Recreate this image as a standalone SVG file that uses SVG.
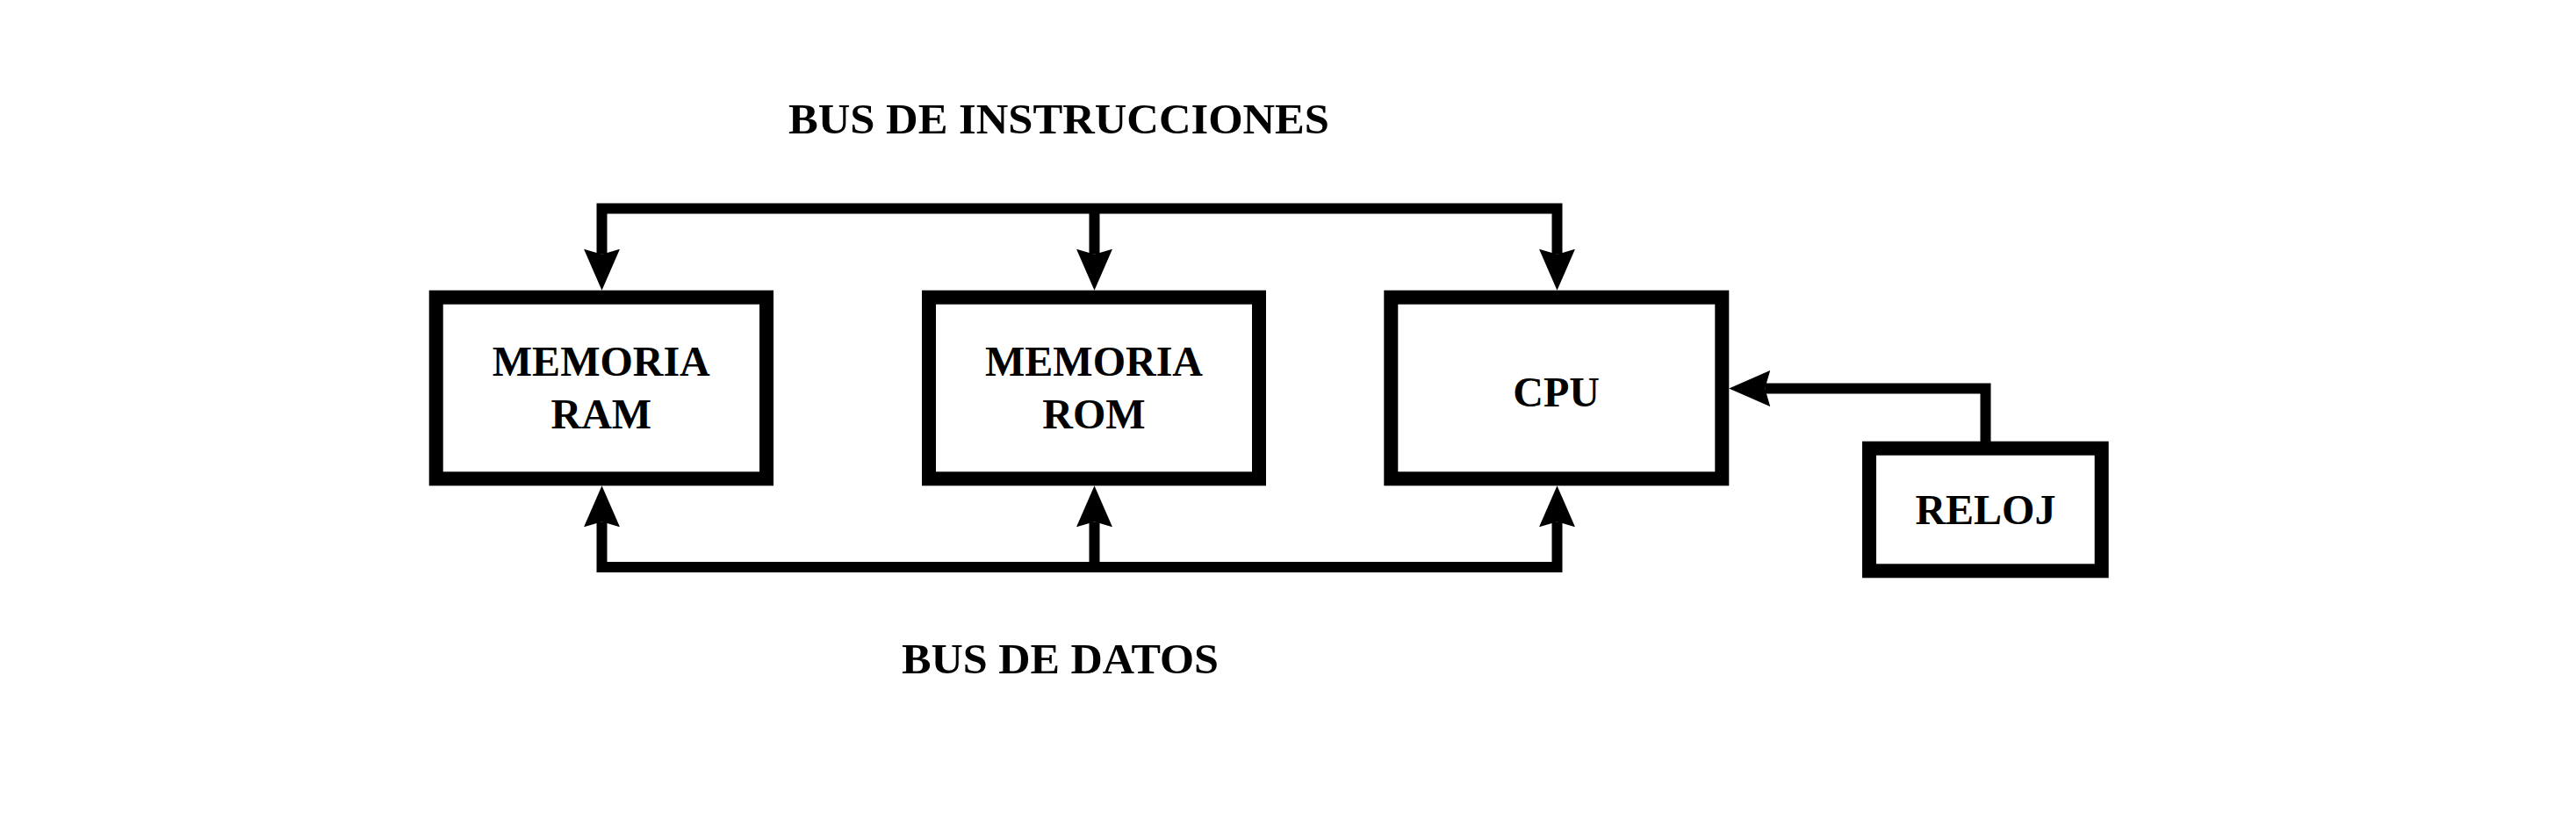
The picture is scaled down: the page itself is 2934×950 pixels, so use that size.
<svg xmlns="http://www.w3.org/2000/svg" width="2934" height="950" viewBox="0 0 2934 950">
<style>
.box{fill:#fff;stroke:#000;stroke-width:16;stroke-linejoin:miter}
.lbl{font-family:"Liberation Serif","Times New Roman",serif;font-weight:bold;font-size:48px;fill:#000;text-anchor:middle}
.wire{fill:none;stroke:#000;stroke-width:12;stroke-linejoin:miter;stroke-linecap:butt}
</style>
<defs>
<marker id="ah" viewBox="0 0 47 41" refX="6" refY="20.5" markerWidth="47" markerHeight="41" markerUnits="userSpaceOnUse" orient="auto-start-reverse">
<path d="M0,0 L47,20.5 L0,41 L6,20.5 Z" fill="#000"/>
</marker>
</defs>
<rect width="2934" height="950" fill="#fff"/>
<g id="connectors">
<path class="wire" d="M685.5,289.7 V237.5 H1773.5 V289.7" marker-start="url(#ah)" marker-end="url(#ah)"/>
<path class="wire" d="M1246.5,237.5 V289.7" marker-end="url(#ah)"/>
<path class="wire" d="M685.5,594.3 V646 H1773.5 V594.3" marker-start="url(#ah)" marker-end="url(#ah)"/>
<path class="wire" d="M1246.5,646 V594.3" marker-end="url(#ah)"/>
<path class="wire" d="M2261.5,503 V442.5 H2010.2" marker-end="url(#ah)"/>
</g>
<g id="bus-instrucciones">
<text class="lbl" x="1206" y="151.7" textLength="616" lengthAdjust="spacingAndGlyphs">BUS DE INSTRUCCIONES</text>
</g>
<g id="bus-datos">
<text class="lbl" x="1207.5" y="766.7" textLength="361" lengthAdjust="spacingAndGlyphs">BUS DE DATOS</text>
</g>
<g id="ram">
<rect class="box" x="496.7" y="338.7" width="376.3" height="206.6"/>
<text class="lbl" x="684.8" y="428.3">MEMORIA</text>
<text class="lbl" x="684.8" y="488.3">RAM</text>
</g>
<g id="rom">
<rect class="box" x="1058" y="338.7" width="376" height="206.6"/>
<text class="lbl" x="1246" y="428.3">MEMORIA</text>
<text class="lbl" x="1246" y="488.3">ROM</text>
</g>
<g id="cpu">
<rect class="box" x="1584.3" y="338.7" width="377" height="206.6"/>
<text class="lbl" x="1772.7" y="463.3">CPU</text>
</g>
<g id="reloj">
<rect class="box" x="2129" y="510.7" width="264.7" height="139.6"/>
<text class="lbl" x="2261.4" y="596.7">RELOJ</text>
</g>
</svg>
